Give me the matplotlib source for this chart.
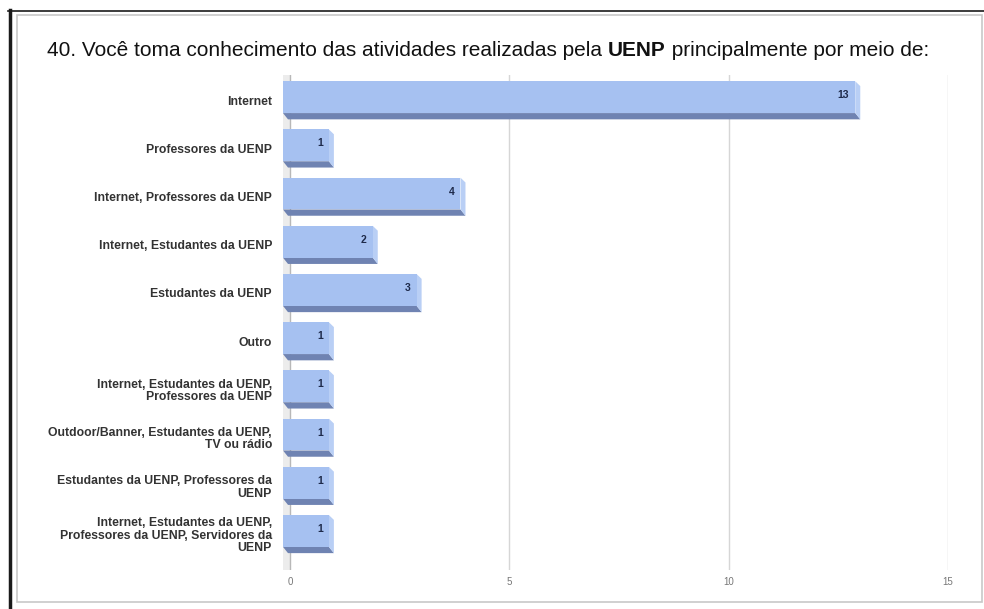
import matplotlib
matplotlib.use("Agg")
import matplotlib.pyplot as plt
from matplotlib.patches import Polygon, Rectangle
from matplotlib.lines import Line2D

categories = [
    "Internet",
    "Professores da UENP",
    "Internet, Professores da UENP",
    "Internet, Estudantes da UENP",
    "Estudantes da UENP",
    "Outro",
    "Internet, Estudantes da UENP,\nProfessores da UENP",
    "Outdoor/Banner, Estudantes da UENP,\nTV ou rádio",
    "Estudantes da UENP, Professores da\nUENP",
    "Internet, Estudantes da UENP,\nProfessores da UENP, Servidores da\nUENP",
]
counts = [13, 1, 4, 2, 3, 1, 1, 1, 1, 1]
x_ticks = [0, 5, 10, 15]

title_parts = [
    ("40. Você toma conhecimento das atividades realizadas pela ", "normal"),
    ("UENP", "bold"),
    (" principalmente por meio de:", "normal"),
]

front_col = "#a6c1f1"
side_col = "#b9cff5"
bottom_col = "#6f83b2"
label_col = "#1e2a4a"

plt.rcParams["font.family"] = ["Liberation Sans", "DejaVu Sans"]

W, H = 984, 609
fig = plt.figure(figsize=(W / 100, H / 100), dpi=100)
fig.patch.set_facecolor("white")

# page frame (screenshot borders)
fig.add_artist(Line2D([9.5 / W, 9.5 / W], [0, 1 - 10 / H], color="#1a1a1a", lw=2.5))
fig.add_artist(Line2D([8 / W, 1], [1 - 10.5 / H, 1 - 10.5 / H], color="#1a1a1a", lw=1.2))
fig.add_artist(Rectangle((17 / W, 1 - 602 / H), (982 - 17) / W, (602 - 15) / H,
                         fill=False, ec="#c8c8c8", lw=1.2, transform=fig.transFigure))

ax = fig.add_axes([283 / W, 1 - 570 / H, (948 - 283) / W, (570 - 75) / H])
xmin, xmax = -0.16, 15
ax.set_xlim(xmin, xmax)
ax.set_ylim(9.75, -0.52)

px_x = (xmax - xmin) / (948 - 283)
dx = 5 * px_x
top_off, bot_off, strip_off = 0.39, 0.27, 0.40

# back wall and grid
ax.add_patch(Rectangle((xmin, -0.52), -xmin, 10.27, color="#ececec", lw=0, zorder=0))
for t in x_ticks[1:]:
    ax.axvline(t, color="#d6d6d6", lw=1, zorder=0.5)
ax.axvline(0, color="#b8b8b8", lw=1, zorder=0.6)

for i, v in enumerate(counts):
    yt, yb, ys = i - top_off, i + bot_off, i + strip_off
    xl, xr = xmin, v - dx
    ax.add_patch(Polygon([(xl, yb), (xr, yb), (v, ys), (xl + dx, ys)],
                         closed=True, fc=bottom_col, ec="none", zorder=2))
    ax.add_patch(Polygon([(xr, yt), (v, yt + 0.1), (v, ys), (xr, yb)],
                         closed=True, fc=side_col, ec="none", zorder=2))
    ax.add_patch(Rectangle((xl, yt), xr - xl, yb - yt, fc=front_col, ec="none", zorder=3))
    ax.text(xr - 6 * px_x, i - 0.1, str(v), ha="right", va="center",
            fontsize=7.5, fontweight="bold", color=label_col, zorder=4)

ax.set_yticks(range(len(categories)))
ax.set_yticklabels(categories, fontsize=8.8, color="#333333", fontweight="bold",
                   linespacing=1.05)
ax.tick_params(axis="y", length=0, pad=8)
ax.set_xticks(x_ticks)
ax.set_xticklabels([str(t) for t in x_ticks], fontsize=7, color="#777777")
ax.tick_params(axis="x", length=0, pad=5)
for s in ax.spines.values():
    s.set_visible(False)

# title with bold "UENP"
renderer = fig.canvas.get_renderer()
x = 47 / W
for txt, weight in title_parts:
    t = fig.text(x, 1 - 50 / H, txt, fontsize=15, fontweight=weight,
                 color="#111111", va="center", ha="left")
    bb = t.get_window_extent(renderer)
    x += bb.width / W

fig.savefig("out.png", dpi=100)
